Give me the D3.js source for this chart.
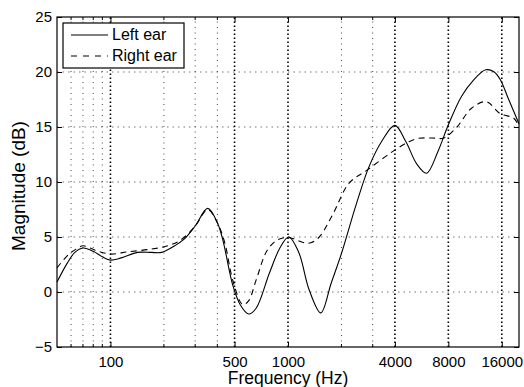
<!DOCTYPE html>
<html>
<head>
<meta charset="utf-8">
<script src="https://cdn.jsdelivr.net/npm/d3@7"></script>
<style>
  body { margin: 0; background: #fff; }
  text { font-family: "Liberation Sans", Arial, sans-serif; fill: #000; }
</style>
</head>
<body>
<svg id="chart" width="524" height="387"></svg>
<script>
const leftFreq = [50, 57, 63, 70, 80, 90, 100, 115, 142, 170, 194, 230, 260, 300, 353, 400, 430, 489, 540, 599, 660, 785, 900, 1010, 1150, 1315, 1530, 1750, 2000, 2415, 2860, 3400, 4000, 4600, 5330, 6030, 7000, 8000, 9500, 11000, 13000, 14500, 15700, 17500, 20000]
const leftDb = [0.9, 2.6, 3.6, 4.0, 3.7, 3.2, 2.9, 3.1, 3.6, 3.6, 3.6, 4.2, 4.8, 6.0, 7.6, 6.3, 4.7, 0.6, -1.2, -2.0, -1.5, 1.7, 4.0, 5.0, 3.6, 0.2, -1.9, 0.8, 3.5, 7.9, 11.4, 13.8, 15.15, 13.7, 11.6, 10.8, 12.8, 15.2, 17.8, 19.2, 20.2, 20.0, 19.3, 17.5, 15.3]
const rightFreq = [50, 58, 64, 70, 82, 100, 125, 170, 211, 250, 300, 353, 400, 440, 490, 556, 600, 662, 764, 875, 1010, 1230, 1345, 1500, 1780, 2210, 2800, 3875, 4800, 5450, 6500, 7530, 8950, 10800, 13075, 15700, 18700, 20000]
const rightDb = [2.2, 3.4, 3.9, 4.2, 3.8, 3.45, 3.65, 3.9, 4.2, 4.75, 6.0, 7.5, 6.3, 4.5, 1.0, -1.15, -0.8, 1.1, 3.8, 4.75, 4.95, 4.48, 4.48, 5.0, 7.0, 9.9, 11.1, 12.76, 13.67, 13.97, 14.0, 14.0, 15.0, 16.7, 17.3, 16.2, 15.8, 15.0]

const xTicks = [100, 500, 1000, 4000, 8000, 16000]
const xMinor = [60, 70, 80, 90, 200, 300, 400, 2000, 3000]
const yTicks = [-5, 0, 5, 10, 15, 20, 25]
const seriesNames = ["Left ear", "Right ear"]

const margin = {left: 57, top: 17, right: 5, bottom: 40}
const width = 524, height = 387
const svg = d3.select("#chart")

const x = d3.scaleLog().domain([50, 20000]).range([margin.left, width - margin.right])
const y = d3.scaleLinear().domain([-5, 25]).range([height - margin.bottom, margin.top])
const x0 = x.range()[0], x1 = x.range()[1], y0 = y.range()[0], y1 = y.range()[1]

// grid
const grid = svg.append("g")
grid.selectAll(".hgrid").data(yTicks.slice(1, -1)).join("line")
  .attr("x1", x0).attr("x2", x1).attr("y1", d => y(d)).attr("y2", d => y(d))
  .attr("stroke", "#777").attr("stroke-width", 1).attr("stroke-dasharray", "1.5,4")
grid.selectAll(".vminor").data(xMinor).join("line")
  .attr("x1", d => x(d)).attr("x2", d => x(d)).attr("y1", y0).attr("y2", y1)
  .attr("stroke", "#444").attr("stroke-width", 1).attr("stroke-dasharray", "1,4.5")
grid.selectAll(".vmajor").data(xTicks).join("line")
  .attr("x1", d => x(d)).attr("x2", d => x(d)).attr("y1", y0).attr("y2", y1)
  .attr("stroke", "#000").attr("stroke-width", 1.6).attr("stroke-dasharray", "1.5,2.5")

// curves
const line = d3.line().x(d => x(d[0])).y(d => y(d[1])).curve(d3.curveCatmullRom.alpha(0.5))
svg.append("path").datum(d3.zip(leftFreq, leftDb))
  .attr("d", line).attr("fill", "none").attr("stroke", "#000").attr("stroke-width", 1.1)
svg.append("path").datum(d3.zip(rightFreq, rightDb))
  .attr("d", line).attr("fill", "none").attr("stroke", "#000").attr("stroke-width", 1.1)
  .attr("stroke-dasharray", "6,4.5")

// axes, ticks inside on all four sides
const xAxis = d3.axisBottom(x).tickValues(xTicks).tickFormat(d3.format("d")).tickSizeInner(-5).tickSizeOuter(0).tickPadding(9)
const yAxis = d3.axisLeft(y).tickValues(yTicks).tickFormat(d => d < 0 ? "\u2212" + (-d) : d).tickSizeInner(-5).tickSizeOuter(0).tickPadding(5)
const gx = svg.append("g").attr("transform", `translate(0,${y0})`).call(xAxis)
const gy = svg.append("g").attr("transform", `translate(${x0},0)`).call(yAxis)
;[gx, gy].forEach(g => {
  g.select(".domain").remove()
  g.selectAll("line").attr("stroke", "#000")
  g.selectAll("text").style("font-size", "15px").style("font-family", "Liberation Sans, Arial, sans-serif")
})
svg.append("g").attr("transform", `translate(0,${y1})`)
  .call(d3.axisTop(x).tickValues(xTicks).tickSizeInner(-5).tickSizeOuter(0).tickFormat(""))
  .call(g => g.select(".domain").remove())
svg.append("g").attr("transform", `translate(${x1},0)`)
  .call(d3.axisRight(y).tickValues(yTicks).tickSizeInner(-5).tickSizeOuter(0).tickFormat(""))
  .call(g => g.select(".domain").remove())
const minor = svg.append("g").attr("stroke", "#000")
minor.selectAll(".mb").data(xMinor).join("line")
  .attr("x1", d => x(d)).attr("x2", d => x(d)).attr("y1", y0).attr("y2", y0 - 3)
minor.selectAll(".mt").data(xMinor).join("line")
  .attr("x1", d => x(d)).attr("x2", d => x(d)).attr("y1", y1).attr("y2", y1 + 3)

svg.append("rect").attr("x", x0).attr("y", y1).attr("width", x1 - x0).attr("height", y0 - y1)
  .attr("fill", "none").attr("stroke", "#000").attr("stroke-width", 1.2)

// labels
svg.append("text").attr("x", 288).attr("y", 384).attr("text-anchor", "middle")
  .style("font-size", "17.5px").text("Frequency (Hz)")
svg.append("text").attr("transform", `translate(25,186) rotate(-90)`)
  .attr("text-anchor", "middle").style("font-size", "19px").text("Magnitude (dB)")

// legend
const lg = svg.append("g")
lg.append("rect").attr("x", 63).attr("y", 23).attr("width", 121).attr("height", 45)
  .attr("fill", "#fff").attr("stroke", "#000").attr("stroke-width", 1.2)
seriesNames.forEach((name, i) => {
  const ly = 35 + i * 21
  lg.append("line").attr("x1", 71).attr("x2", 108).attr("y1", ly).attr("y2", ly)
    .attr("stroke", "#000").attr("stroke-width", 1.1)
    .attr("stroke-dasharray", i ? "6,6" : null)
  lg.append("text").attr("x", 112).attr("y", ly + 5).style("font-size", "16px").text(name)
})
</script>
</body>
</html>
